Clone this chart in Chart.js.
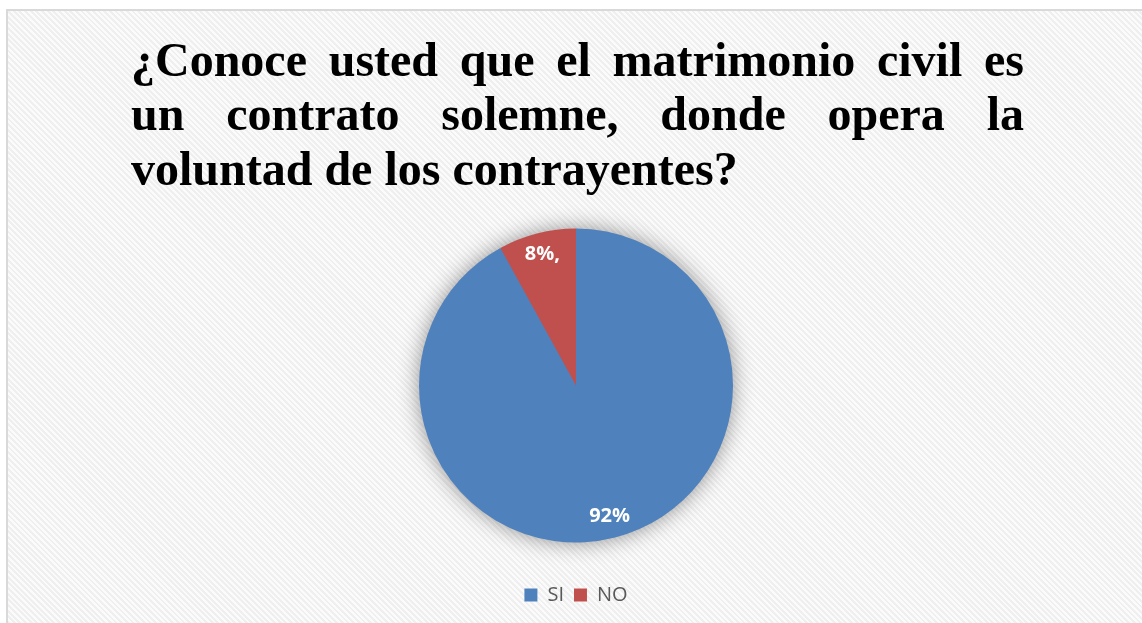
<!DOCTYPE html>
<html>
<head>
<meta charset="utf-8">
<style>
  html, body { margin: 0; padding: 0; background: #ffffff; }
  body { width: 1142px; height: 623px; position: relative; overflow: hidden; }
  #frame {
    position: absolute; left: 6px; top: 9px; width: 1200px; height: 700px;
    border-left: 2px solid #d9d9d9; border-top: 2px solid #d9d9d9;
    background: repeating-linear-gradient(45deg, #fbfbfb 0px, #fbfbfb 2px, #efefef 2px, #efefef 4px);
  }
  #wrap { position: absolute; left: 0; top: 0; width: 1142px; height: 623px; }
</style>
<script src="https://cdn.jsdelivr.net/npm/chart.js@4.4.1/dist/chart.umd.min.js"></script>
</head>
<body>
<div id="frame"></div>
<div id="wrap"><canvas id="c" width="1142" height="623"></canvas></div>
<script>
// Survey answers and their shares
const categories = ['SI', 'NO'];
const percentages = [92, 8];
const valueLabels = ['92%', '8%,'];
const sliceColors = ['#4F81BD', '#C0504D'];

// Question text, one entry per printed line
const titleLines = [
  '¿Conoce usted que el matrimonio civil es',
  'un contrato solemne, donde opera la',
  'voluntad de los contrayentes?'
];

// Justified multi-line heading drawn above the pie
const headingPlugin = {
  id: 'heading',
  afterDraw(chart) {
    const ctx = chart.ctx;
    const left = 131, right = 1024;
    const baselines = [75.5, 130, 184.5];
    ctx.save();
    ctx.fillStyle = '#000000';
    ctx.font = 'bold 48px "Liberation Serif", "Times New Roman", serif';
    ctx.textBaseline = 'alphabetic';
    ctx.textAlign = 'left';
    titleLines.forEach((line, i) => {
      const words = line.split(' ');
      const isLast = i === titleLines.length - 1;
      if (isLast) {
        ctx.fillText(line, left, baselines[i]);
        return;
      }
      const widths = words.map(w => ctx.measureText(w).width);
      const total = widths.reduce((a, b) => a + b, 0);
      const gap = (right - left - total) / (words.length - 1);
      let x = left;
      words.forEach((w, k) => {
        ctx.fillText(w, x, baselines[i]);
        x += widths[k] + gap;
      });
    });
    ctx.restore();
  }
};

// Soft glow behind the pie
const pieShadowPlugin = {
  id: 'pieShadow',
  beforeDatasetsDraw(chart) {
    const arc = chart.getDatasetMeta(0).data[0];
    if (!arc) return;
    const { x, y, outerRadius } = arc.getProps(['x', 'y', 'outerRadius'], true);
    const ctx = chart.ctx;
    ctx.save();
    ctx.shadowColor = 'rgba(0,0,0,0.45)';
    ctx.shadowBlur = 22;
    ctx.shadowOffsetX = 0;
    ctx.shadowOffsetY = 0;
    ctx.fillStyle = sliceColors[0];
    ctx.beginPath();
    ctx.arc(x, y, outerRadius - 1, 0, Math.PI * 2);
    ctx.fill();
    ctx.restore();
  }
};

// Percentage text placed inside each slice
const sliceLabelPlugin = {
  id: 'sliceLabels',
  afterDatasetsDraw(chart) {
    const ctx = chart.ctx;
    const meta = chart.getDatasetMeta(0);
    ctx.save();
    ctx.fillStyle = '#ffffff';
    ctx.font = 'bold 20px "Open Sans", "Noto Sans", sans-serif';
    ctx.textAlign = 'center';
    ctx.textBaseline = 'middle';
    meta.data.forEach((arc, i) => {
      const p = arc.getProps(['x', 'y', 'startAngle', 'endAngle', 'outerRadius'], true);
      const mid = (p.startAngle + p.endAngle) / 2;
      const d = p.outerRadius * 0.86;
      ctx.fillText(valueLabels[i], p.x + Math.cos(mid) * d, p.y + Math.sin(mid) * d);
    });
    ctx.restore();
  }
};

new Chart(document.getElementById('c'), {
  type: 'pie',
  data: {
    labels: categories,
    datasets: [{
      data: percentages,
      backgroundColor: sliceColors,
      borderWidth: 0,
      radius: 157
    }]
  },
  options: {
    responsive: false,
    animation: false,
    layout: { padding: { top: 196, left: 10, right: 0, bottom: 8 } },
    plugins: {
      legend: {
        position: 'bottom',
        labels: {
          boxWidth: 13,
          boxHeight: 13,
          padding: 10,
          color: '#595959',
          font: { family: '"Open Sans", "Noto Sans", sans-serif', size: 20 }
        }
      },
      tooltip: { enabled: false },
      title: { display: false }
    }
  },
  plugins: [pieShadowPlugin, sliceLabelPlugin, headingPlugin]
});
</script>
</body>
</html>
